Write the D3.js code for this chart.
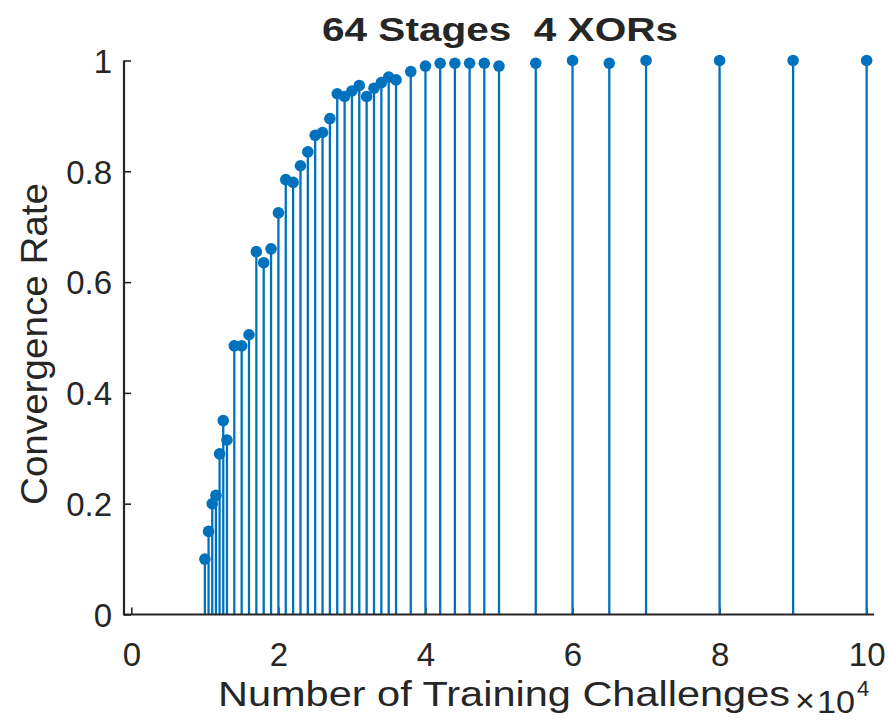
<!DOCTYPE html>
<html>
<head>
<meta charset="utf-8">
<script src="https://cdn.jsdelivr.net/npm/d3@7/dist/d3.min.js"></script>
<style>
  html, body { margin: 0; padding: 0; background: #ffffff; }
  svg { display: block; }
  text { font-family: "Liberation Sans", Arial, Helvetica, sans-serif; fill: #262626; }
</style>
</head>
<body>
<svg id="chart" width="888" height="721"></svg>
<script>
// Number of training challenges (in units of 10^4)
const challenges = [
  1.0, 1.05, 1.1, 1.15, 1.2, 1.25, 1.3,
  1.4, 1.5, 1.6, 1.7, 1.8, 1.9, 2.0, 2.1, 2.2, 2.3, 2.4, 2.5,
  2.6, 2.7, 2.8, 2.9, 3.0, 3.1, 3.2, 3.3, 3.4, 3.5, 3.6,
  3.8, 4.0, 4.2, 4.4, 4.6, 4.8, 5.0, 5.5, 6.0, 6.5, 7, 8, 9, 10
];
// Convergence rate reached at each training-set size
const convergence = [
  0.100, 0.150, 0.200, 0.215, 0.290, 0.350, 0.315,
  0.485, 0.485, 0.505, 0.655, 0.635, 0.660, 0.725, 0.785, 0.780, 0.810, 0.835, 0.865,
  0.870, 0.895, 0.940, 0.935, 0.945, 0.955, 0.935, 0.950, 0.960, 0.970, 0.965,
  0.980, 0.990, 0.995, 0.995, 0.995, 0.995, 0.990, 0.995, 1.000, 0.995, 1.000, 1.000, 1.000, 1.000
];
const xTickValues = [0, 2, 4, 6, 8, 10];
const xTickLabels = ["0", "2", "4", "6", "8", "10"];
const yTickValues = [0, 0.2, 0.4, 0.6, 0.8, 1];
const yTickLabels = ["0", "0.2", "0.4", "0.6", "0.8", "1"];

const chartTitle = "64 Stages  4 XORs";
const xLabel = "Number of Training Challenges";
const yLabel = "Convergence Rate";

const stemColor = "#0072BD";
const axisColor = "#262626";

const svg = d3.select("#chart");

const x = d3.scaleLinear().domain([-0.1, 10.1]).range([124, 874]);
const y = d3.scaleLinear().domain([0, 1]).range([614.5, 60.5]);

const points = challenges.map((c, i) => ({ c, v: convergence[i] }));

// Axes (ticks point inward)
const xAxis = d3.axisBottom(x)
  .tickValues(xTickValues)
  .tickFormat((d, i) => xTickLabels[i])
  .tickSizeInner(-7)
  .tickSizeOuter(0)
  .tickPadding(0);

const yAxis = d3.axisLeft(y)
  .tickValues(yTickValues)
  .tickFormat((d, i) => yTickLabels[i])
  .tickSizeInner(-7)
  .tickSizeOuter(0)
  .tickPadding(0);

const gx = svg.append("g")
  .attr("transform", `translate(0,${y(0)})`)
  .call(xAxis);

const gy = svg.append("g")
  .attr("transform", `translate(${x.range()[0]},0)`)
  .call(yAxis);

[gx, gy].forEach(g => {
  g.selectAll(".domain").remove();
  g.selectAll(".tick line").attr("stroke", axisColor).attr("stroke-width", 1.6);
  g.selectAll(".tick text")
    .attr("font-size", 33)
    .attr("fill", axisColor)
    .style("font-family", '"Liberation Sans", Arial, sans-serif');
});

gx.selectAll(".tick text")
  .attr("y", 40)
  .attr("dy", "0.36em");

gy.selectAll(".tick text")
  .attr("x", -12)
  .attr("dy", "0.36em");

// Stems
const stems = svg.append("g");
stems.selectAll("line")
  .data(points)
  .join("line")
  .attr("x1", d => x(d.c))
  .attr("x2", d => x(d.c))
  .attr("y1", y(0))
  .attr("y2", d => y(d.v))
  .attr("stroke", stemColor)
  .attr("stroke-width", 2.3);

stems.selectAll("circle")
  .data(points)
  .join("circle")
  .attr("cx", d => x(d.c))
  .attr("cy", d => y(d.v))
  .attr("r", 5.8)
  .attr("fill", stemColor);

// Axis lines drawn over the stems
svg.append("line")
  .attr("x1", x.range()[0]).attr("x2", x.range()[1])
  .attr("y1", y(0)).attr("y2", y(0))
  .attr("stroke", axisColor).attr("stroke-width", 2.2);
svg.append("line")
  .attr("x1", x.range()[0]).attr("x2", x.range()[0])
  .attr("y1", y.range()[0] + 1.1).attr("y2", y.range()[1])
  .attr("stroke", axisColor).attr("stroke-width", 2.2);

// Title
svg.append("text")
  .attr("x", 500)
  .attr("y", 41)
  .attr("text-anchor", "middle")
  .attr("font-size", 33)
  .attr("font-weight", "bold")
  .attr("fill", "#000")
  .attr("textLength", 356)
  .attr("lengthAdjust", "spacingAndGlyphs")
  .style("white-space", "pre")
  .text(chartTitle);

// X label with the x10^4 multiplier
svg.append("text")
  .attr("x", 218)
  .attr("y", 706)
  .attr("font-size", 35)
  .attr("textLength", 572)
  .attr("lengthAdjust", "spacingAndGlyphs")
  .text(xLabel);

svg.append("text")
  .attr("x", 795)
  .attr("y", 712)
  .attr("font-size", 34)
  .text("\u00d7");
svg.append("text")
  .attr("x", 817)
  .attr("y", 713)
  .attr("font-size", 31)
  .attr("textLength", 38)
  .attr("lengthAdjust", "spacingAndGlyphs")
  .text("10");
svg.append("text")
  .attr("x", 857)
  .attr("y", 696)
  .attr("font-size", 22)
  .text("4");

// Y label
svg.append("text")
  .attr("transform", `translate(47,344) rotate(-90)`)
  .attr("text-anchor", "middle")
  .attr("font-size", 37)
  .attr("textLength", 322)
  .attr("lengthAdjust", "spacingAndGlyphs")
  .text(yLabel);
</script>
</body>
</html>
